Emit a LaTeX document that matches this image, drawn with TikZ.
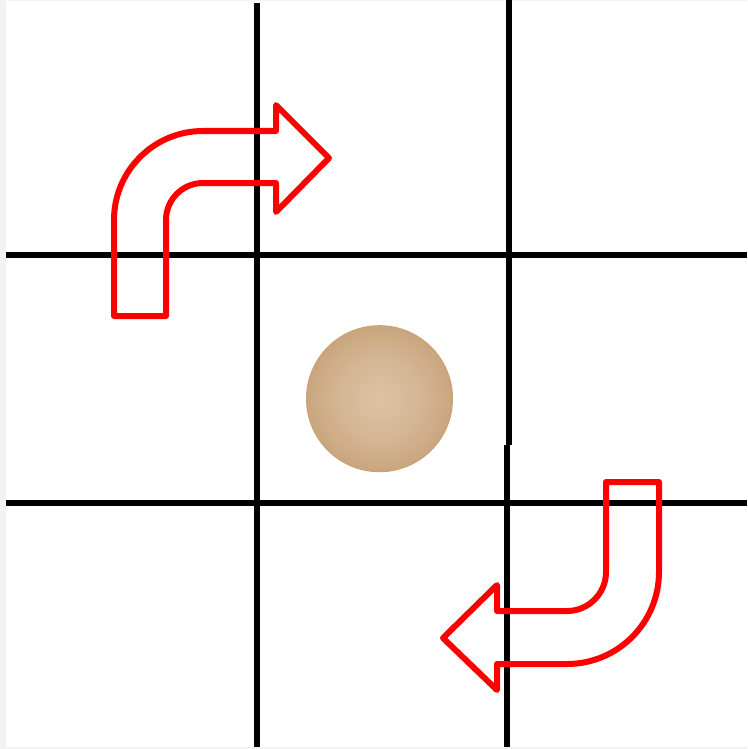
\documentclass[tikz,border=0pt]{standalone}
\usetikzlibrary{shapes.geometric}
\definecolor{pagegray}{HTML}{F2F2F2}
\definecolor{ballin}{HTML}{DDC3A3}
\definecolor{ballmid}{HTML}{D4B694}
\definecolor{ballout}{HTML}{BE9567}
\definecolor{balledge}{HTML}{C9A274}
\pgfdeclareradialshading{ballshade}{\pgfpoint{0bp}{0bp}}{color(0bp)=(ballin); color(14bp)=(ballmid); color(36bp)=(ballout); color(50bp)=(ballout)}
\tikzset{
  gridline/.style={line width=5.5pt, black},
  turnarrow/.style={line width=6pt, red, line join=round},
  ball/.style={circle, minimum size=146pt, inner sep=0pt, draw=balledge, line width=1pt, shading=ballshade}
}
\begin{document}
\begin{tikzpicture}[x=1pt,y=-1pt]
\useasboundingbox (0,0) rectangle (747,749);
\fill[pagegray] (0,0) rectangle (747,749);
\fill[white] (6,1) rectangle (747,746.5);
% grid
\draw[gridline] (6,255) -- (747,255);
\draw[gridline] (6,503) -- (747,503);
\draw[gridline] (257,3) -- (257,746.5);
\draw[gridline] (509,0) -- (509,445);
\draw[gridline] (507,445) -- (507,746.5);
% ball
\node[ball] (b) at (379.5,398.7) {};
% top-left turning arrow
\draw[turnarrow] (114,316) -- (166,316) -- (166,220)
  arc[start angle=180,end angle=270,radius=37] -- (276,183) -- (276,212) -- (329,158)
  -- (276,105) -- (276,131) -- (203,131)
  arc[start angle=270,end angle=180,radius=89] -- cycle;
% bottom-right turning arrow
\draw[turnarrow] (606,482) -- (606,572)
  arc[start angle=0,end angle=90,radius=39] -- (497,611) -- (497,585) -- (443,638)
  -- (497,690) -- (497,664) -- (567,664)
  arc[start angle=90,end angle=0,radius=92] -- (659,482) -- cycle;
\end{tikzpicture}
\end{document}
